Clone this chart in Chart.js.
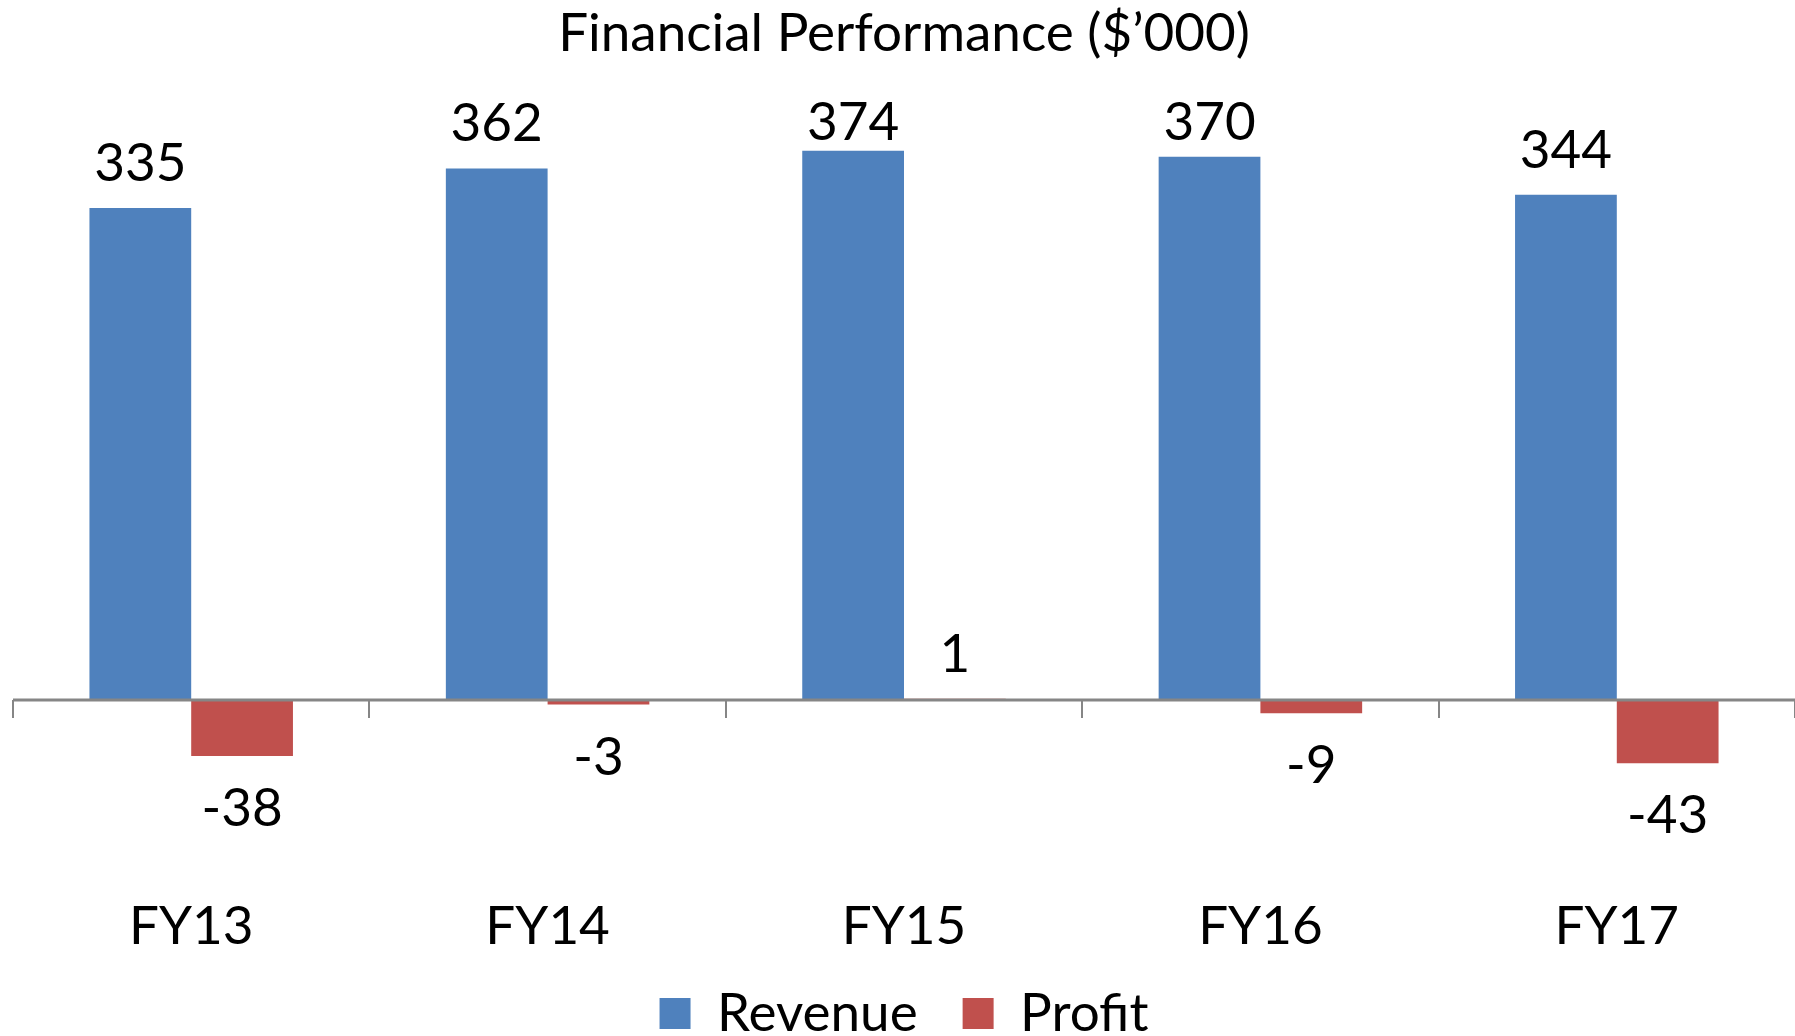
<!DOCTYPE html>
<html>
<head>
<meta charset="utf-8">
<script src="https://cdn.jsdelivr.net/npm/chart.js@4.4.1/dist/chart.umd.min.js"></script>
<style>
    html, body { margin: 0; padding: 0; background: #fff; }
    #wrap { width: 1795px; height: 1036px; }
</style>
</head>
<body>
<div id="wrap"><canvas id="finChart"></canvas></div>
<script>
const categories = ['FY13', 'FY14', 'FY15', 'FY16', 'FY17'];
const revenue = [335, 362, 374, 370, 344];
const profit = [-38, -3, 1, -9, -43];
const seriesNames = ['Revenue', 'Profit'];
const seriesColors = ['#4F81BD', '#C0504D'];

const FONT = 'Lato, "Open Sans", sans-serif';

// zero line, tick marks and value labels like the Excel original
const excelBits = {
    id: 'excelBits',
    beforeDraw(chart) {
        // category labels sit lower than the axis box, don't clip them
        chart.scales.x._computeLabelArea = () => undefined;
    },
    afterDatasetsDraw(chart) {
        const ctx = chart.ctx;
        const x = chart.scales.x;
        const y = chart.scales.y;
        const y0 = y.getPixelForValue(0);
        const step = (x.right - x.left) / categories.length;

        ctx.save();
        ctx.strokeStyle = '#868686';
        ctx.lineWidth = 3;
        ctx.beginPath();
        ctx.moveTo(x.left, y0);
        ctx.lineTo(x.right, y0);
        ctx.stroke();
        ctx.lineWidth = 2;
        for (let i = 0; i <= categories.length; i++) {
            const px = Math.round(x.left + i * step);
            ctx.beginPath();
            ctx.moveTo(px, y0);
            ctx.lineTo(px, y0 + 18);
            ctx.stroke();
        }

        ctx.fillStyle = '#000';
        ctx.font = '53px ' + FONT;
        ctx.textAlign = 'center';
        ctx.textBaseline = 'alphabetic';
        // labels can't go above the top of the plot, as in excel
        const minBase = chart.chartArea.top + 27;
        chart.data.datasets.forEach((ds, di) => {
            chart.getDatasetMeta(di).data.forEach((bar, i) => {
                const v = ds.data[i];
                if (v >= 0) {
                    ctx.fillText(String(v), bar.x, Math.max(bar.y - 27, minBase));
                } else {
                    ctx.fillText(String(v), bar.x, bar.y + 70);
                }
            });
        });
        ctx.restore();
    }
};

new Chart(document.getElementById('finChart'), {
    type: 'bar',
    data: {
        labels: categories,
        datasets: [
            { label: seriesNames[0], data: revenue, backgroundColor: seriesColors[0], borderWidth: 0 },
            { label: seriesNames[1], data: profit, backgroundColor: seriesColors[1], borderWidth: 0 }
        ]
    },
    options: {
        responsive: true,
        maintainAspectRatio: false,
        animation: false,
        layout: { padding: { left: 13, right: 0, top: 0, bottom: -14 } },
        datasets: {
            bar: { categoryPercentage: 0.571, barPercentage: 1 }
        },
        scales: {
            x: {
                grid: { display: false },
                border: { display: false },
                ticks: { color: '#000', font: { family: FONT, size: 53 }, padding: 40 },
                afterFit(scale) { scale.height = 95; }
            },
            y: {
                display: false,
                min: -100,
                max: 400
            }
        },
        plugins: {
            title: {
                display: true,
                text: 'Financial Performance ($’000)',
                color: '#000',
                font: { family: FONT, size: 53, weight: 'normal' },
                padding: { top: 2, bottom: 47 }
            },
            legend: {
                position: 'bottom',
                labels: {
                    color: '#000',
                    font: { family: FONT, size: 53 },
                    boxWidth: 31,
                    boxHeight: 31,
                    padding: 45
                }
            },
            tooltip: { enabled: false }
        }
    },
    plugins: [excelBits]
});
</script>
</body>
</html>
